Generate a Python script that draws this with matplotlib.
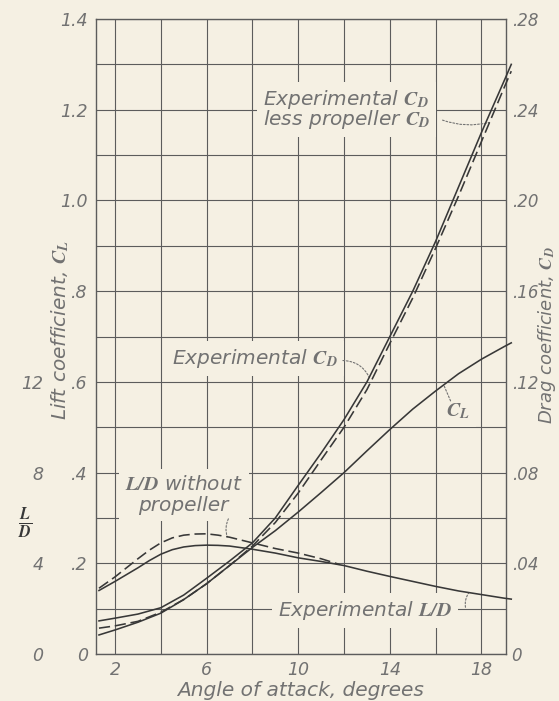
import numpy as np
import matplotlib
matplotlib.use("Agg")
import matplotlib.pyplot as plt

# Angle of attack (degrees) for the lift and drag curves
alpha = [1.3, 2, 3, 4, 5, 6, 7, 8, 9, 10, 11, 12, 13, 14, 15, 16, 17, 18, 19, 19.3]

# Lift coefficient C_L
lift_coef = [0.042, 0.053, 0.070, 0.090, 0.120, 0.155, 0.195, 0.235, 0.272, 0.313,
             0.356, 0.400, 0.448, 0.495, 0.540, 0.580, 0.618, 0.650, 0.678, 0.686]

# Drag coefficient C_D: measured, and measured less propeller drag
drag_exp = [0.0146, 0.0158, 0.0176, 0.0204, 0.0260, 0.0334, 0.0410, 0.0490, 0.0600, 0.0744,
            0.0886, 0.1034, 0.1200, 0.1400, 0.1600, 0.1820, 0.2060, 0.2300, 0.2530, 0.2600]
drag_less_prop = [0.0114, 0.0124, 0.0144, 0.0184, 0.0240, 0.0310, 0.0390, 0.0476, 0.0580, 0.0710,
                  0.0856, 0.1000, 0.1166, 0.1370, 0.1570, 0.1790, 0.2020, 0.2260, 0.2500, 0.2570]

# Lift-drag ratio, measured
alpha_ld = [1.3, 2, 2.5, 3, 3.5, 4, 4.5, 5, 5.5, 6, 6.5, 7, 8, 9, 10,
            11, 12, 13, 14, 15, 16, 17, 18, 19, 19.3]
ld_exp = [2.80, 3.20, 3.50, 3.80, 4.12, 4.40, 4.60, 4.72, 4.78, 4.80, 4.79, 4.76, 4.62, 4.45, 4.24,
          4.08, 3.90, 3.65, 3.42, 3.20, 2.98, 2.78, 2.62, 2.46, 2.42]

# Lift-drag ratio without propeller
alpha_noprop = [1.3, 2, 2.5, 3, 3.5, 4, 4.5, 5, 5.5, 6, 6.5, 7, 8, 9, 10, 11, 11.8]
ld_noprop = [2.90, 3.40, 3.80, 4.20, 4.58, 4.90, 5.12, 5.24, 5.29, 5.30, 5.24, 5.15, 4.90,
             4.65, 4.45, 4.20, 3.95]

# Scales and tick labels
x_ticks = [2, 4, 6, 8, 10, 12, 14, 16, 18]
x_labels = ['2', '', '6', '', '10', '', '14', '', '18']
cl_ticks = [0, 0.1, 0.2, 0.3, 0.4, 0.5, 0.6, 0.7, 0.8, 0.9, 1.0, 1.1, 1.2, 1.3, 1.4]
cl_labels = ['0', '', '.2', '', '.4', '', '.6', '', '.8', '', '1.0', '', '1.2', '', '1.4']
cd_ticks = [0, 0.04, 0.08, 0.12, 0.16, 0.20, 0.24, 0.28]
cd_labels = ['0', '.04', '.08', '.12', '.16', '.20', '.24', '.28']
ld_ticks = [0, 4, 8, 12]
ld_labels = ['0', '4', '8', '12']

BG = '#f5f0e3'
INK = '#383838'
GRID = '#5c5c5c'
TXT = '#727272'
FS = 12.5     # tick labels
FL = 14.5     # annotations and axis titles

plt.rcParams.update({
    'font.family': ['DejaVu Sans'],
    'font.style': 'oblique',
    'mathtext.fontset': 'stix',
})

W, H = 559, 701
fig = plt.figure(figsize=(W / 100, H / 100), dpi=100, facecolor=BG)
L, R, B, T = 96, 506, 654, 19
ax = fig.add_axes([L / W, 1 - B / H, (R - L) / W, (B - T) / H])
ax.set_facecolor(BG)
ax.set_xlim(1.17, 19.07)
ax.set_ylim(0, 1.4)
ax.set_xticks(x_ticks)
ax.set_xticklabels(x_labels)
ax.set_yticks(cl_ticks)
ax.set_yticklabels(cl_labels)
ax.tick_params(length=0, labelsize=FS, labelcolor=TXT)
ax.tick_params(axis='y', pad=6)
ax.tick_params(axis='x', pad=5)
ax.grid(True, color=GRID, lw=0.8)
ax.set_axisbelow(True)
for s in ax.spines.values():
    s.set_color(GRID)
    s.set_linewidth(1.0)

ax_cd = ax.twinx()
ax_cd.set_ylim(0, 0.28)
ax_cd.set_yticks(cd_ticks)
ax_cd.set_yticklabels(cd_labels)
ax_cd.tick_params(length=0, labelsize=12, labelcolor=TXT, pad=4)
for s in ax_cd.spines.values():
    s.set_visible(False)

ax_ld = ax.twinx()
ax_ld.set_ylim(0, 28)
ax_ld.yaxis.tick_left()
ax_ld.set_yticks(ld_ticks)
ax_ld.set_yticklabels(ld_labels)
ax_ld.tick_params(length=0, labelsize=FS, labelcolor=TXT, pad=38)
for s in ax_ld.spines.values():
    s.set_visible(False)

dash = (0, (7, 3))
lw = 1.15
ax.plot(alpha, lift_coef, color=INK, lw=lw, zorder=4, clip_on=False)
ax_cd.plot(alpha, drag_exp, color=INK, lw=lw, clip_on=False)
ax_cd.plot(alpha, drag_less_prop, color=INK, lw=lw, ls=dash, clip_on=False)
ax_ld.plot(alpha_ld, ld_exp, color=INK, lw=lw, clip_on=False)
ax_ld.plot(alpha_noprop, ld_noprop, color=INK, lw=lw, ls=dash, clip_on=False)

box = dict(boxstyle='square,pad=0.3', fc=BG, ec='none')


def label(x, y, s, **kw):
    ax.text(x, y, s, ha='center', va='center', fontsize=FL, color=TXT,
            bbox=box, zorder=3, **kw)


label(12.1, 1.200, 'Experimental $\\mathbf{C_D}$\nless propeller $\\mathbf{C_D}$',
      linespacing=0.8)
label(8.11, 0.651, r'Experimental $\mathbf{C_D}$')
label(16.98, 0.536, r'$\mathbf{C_L}$')
label(5.0, 0.350, '$\\mathbf{L/D}$ without\npropeller', linespacing=1.15)
label(12.92, 0.095, r'Experimental $\mathbf{L/D}$')

leader = dict(arrowstyle='-', color=TXT, lw=0.8, linestyle=(0, (1.6, 1.6)),
              shrinkA=0, shrinkB=0)


def pointer(ax_t, a, series_x, series_y, start, rad):
    y = np.interp(a, series_x, series_y)
    props = dict(leader, connectionstyle=f'arc3,rad={rad}')
    ax.annotate('', xy=(a, y), xycoords=ax_t.transData, xytext=start,
                textcoords='data', arrowprops=props, zorder=3)


pointer(ax_cd, 18.35, alpha, drag_less_prop, (16.3, 1.177), 0.15)
pointer(ax_cd, 13.1, alpha, drag_exp, (11.95, 0.647), -0.3)
pointer(ax, 16.35, alpha, lift_coef, (16.65, 0.558), 0.0)
pointer(ax_ld, 6.9, alpha_noprop, ld_noprop, (6.95, 0.298), 0.2)
pointer(ax_ld, 17.45, alpha_ld, ld_exp, (17.3, 0.103), -0.2)

fig.text(301 / W, 1 - 690 / H, 'Angle of attack, degrees', ha='center', va='center',
         fontsize=FL, color=TXT)
fig.text(60 / W, 1 - 330 / H, r'Lift coefficient, $\mathbf{C_L}$', rotation=90,
         ha='center', va='center', fontsize=FL, color=TXT)
fig.text(547 / W, 1 - 335 / H, r'Drag coefficient, $\mathbf{C_D}$', rotation=90,
         ha='center', va='center', fontsize=13, color=TXT)
fig.text(25 / W, 1 - 523 / H, r'$\frac{\mathbf{L}}{\mathbf{D}}$', ha='center',
         va='center', fontsize=FS + 4, color=INK)

fig.savefig('out.png', dpi=100, facecolor=BG)
